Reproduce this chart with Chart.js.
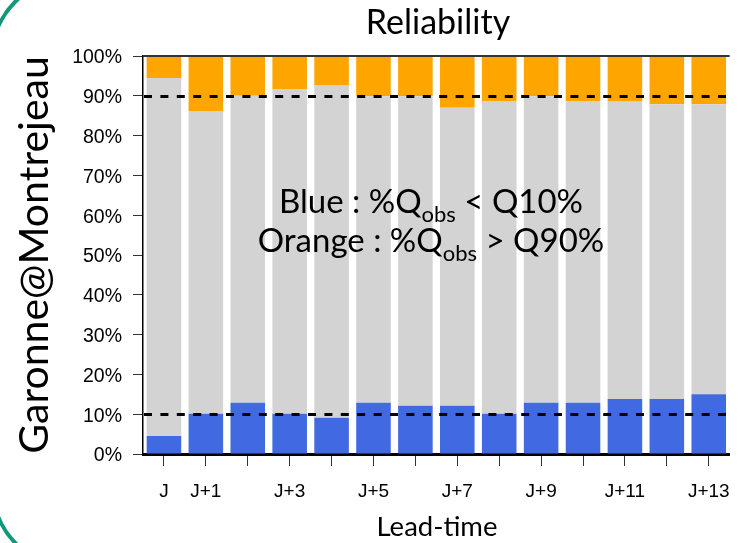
<!DOCTYPE html>
<html>
<head>
<meta charset="utf-8">
<script src="https://cdn.jsdelivr.net/npm/chart.js@4.4.1/dist/chart.umd.min.js"></script>
<style>
  html, body { margin: 0; padding: 0; background: #fff; }
  #wrap { position: relative; width: 744px; height: 543px; }
</style>
</head>
<body>
<div id="wrap"><canvas id="c" width="744" height="543"></canvas></div>
<script>
// Lead times (forecast horizon in days)
const leadTimes = ['J', 'J+1', 'J+2', 'J+3', 'J+4', 'J+5', 'J+6', 'J+7', 'J+8', 'J+9', 'J+10', 'J+11', 'J+12', 'J+13'];
// Only every other label fits under the axis
const axisTickLabels = ['J', 'J+1', '', 'J+3', '', 'J+5', '', 'J+7', '', 'J+9', '', 'J+11', '', 'J+13'];
// % of observed flows below the forecast Q10 (blue) and above the forecast Q90 (orange)
const belowQ10 = [4.5, 10.1, 12.9, 10.1, 9.1, 12.9, 12.1, 12.1, 10.1, 12.9, 12.9, 13.8, 13.8, 15.0];
const aboveQ90 = [5.5, 13.8, 10.0, 8.4, 7.4, 10.1, 10.1, 13.0, 11.3, 10.1, 11.3, 11.3, 12.1, 12.1];
// Remaining share, inside the Q10–Q90 band
const insideBand = belowQ10.map((b, i) => +(100 - b - aboveQ90[i]).toFixed(1));
// Reference levels drawn as dashed lines
const targetLevels = [10, 90];
const yTickValues = [0, 10, 20, 30, 40, 50, 60, 70, 80, 90, 100];

const TEXT_FONT = 'Lato, "Open Sans", sans-serif';
const AXIS_FONT = '"Liberation Sans", Arial, sans-serif';

const decor = {
  id: 'decor',
  afterDatasetsDraw(chart) {
    const { ctx, chartArea: a, scales: { y } } = chart;
    ctx.save();
    // top frame line at 100%
    ctx.strokeStyle = '#333';
    ctx.lineWidth = 2;
    ctx.beginPath();
    ctx.moveTo(a.left, y.getPixelForValue(100));
    ctx.lineTo(a.right, y.getPixelForValue(100));
    ctx.stroke();
    // dashed reference levels
    ctx.strokeStyle = '#000';
    ctx.lineWidth = 3.2;
    ctx.setLineDash([8, 8.4]);
    targetLevels.forEach(v => {
      const py = Math.round(y.getPixelForValue(v)) + 0.5;
      ctx.beginPath();
      ctx.moveTo(a.left + 1, py);
      ctx.lineTo(a.right, py);
      ctx.stroke();
    });
    ctx.restore();
  },
  afterDraw(chart) {
    const { ctx } = chart;
    ctx.save();
    ctx.fillStyle = '#000';
    ctx.textBaseline = 'alphabetic';
    ctx.textAlign = 'center';

    ctx.font = '34px ' + TEXT_FONT;
    ctx.fillText('Reliability', 438, 34);

    ctx.font = '27.5px ' + TEXT_FONT;
    ctx.fillText('Lead-time', 437, 536);

    ctx.save();
    ctx.translate(48, 255);
    ctx.rotate(-Math.PI / 2);
    ctx.font = '41px ' + TEXT_FONT;
    ctx.fillText('Garonne@Montrejeau', 0, 0);
    ctx.restore();

    // legend text with subscripts
    const mainFont = '33px ' + TEXT_FONT;
    const subFont = '22px ' + TEXT_FONT;
    const lines = [
      { y: 213, parts: [['Blue : %Q', 0], ['obs', 1], [' < Q10%', 0]] },
      { y: 252, parts: [['Orange : %Q', 0], ['obs', 1], [' > Q90%', 0]] }
    ];
    ctx.textAlign = 'left';
    lines.forEach(line => {
      let w = 0;
      line.parts.forEach(([t, s]) => { ctx.font = s ? subFont : mainFont; w += ctx.measureText(t).width; });
      let x = 431 - w / 2;
      line.parts.forEach(([t, s]) => {
        ctx.font = s ? subFont : mainFont;
        ctx.fillText(t, x, line.y + (s ? 9 : 0));
        x += ctx.measureText(t).width;
      });
    });

    // rounded slide frame corners
    ctx.strokeStyle = '#12977a';
    ctx.lineWidth = 4;
    ctx.beginPath();
    ctx.arc(70, 57, 77.8, Math.PI, 1.5 * Math.PI);
    ctx.stroke();
    ctx.beginPath();
    ctx.arc(70, 489, 76.8, 0.5 * Math.PI, Math.PI);
    ctx.stroke();
    ctx.restore();
  }
};

new Chart(document.getElementById('c').getContext('2d'), {
  type: 'bar',
  data: {
    labels: leadTimes,
    datasets: [
      { label: '%Qobs < Q10', data: belowQ10, backgroundColor: '#4169E1' },
      { label: 'Q10 – Q90', data: insideBand, backgroundColor: '#D3D3D3' },
      { label: '%Qobs > Q90', data: aboveQ90, backgroundColor: '#FFA500' }
    ]
  },
  options: {
    responsive: false,
    animation: false,
    layout: { padding: { top: 56, right: 11, left: 0, bottom: 0 } },
    datasets: { bar: { barPercentage: 0.825, categoryPercentage: 1, borderWidth: 0 } },
    plugins: { legend: { display: false }, tooltip: { enabled: false }, title: { display: false } },
    scales: {
      x: {
        stacked: true,
        offset: true,
        grid: { display: true, offset: false, drawOnChartArea: false, drawTicks: true, tickLength: 12, color: '#333', lineWidth: 1 },
        border: { display: true, color: '#000', width: 3 },
        ticks: {
          autoSkip: false, maxRotation: 0, minRotation: 0, padding: 14, color: '#000',
          font: { family: AXIS_FONT, size: 19 },
          callback: (v, i) => axisTickLabels[i]
        },
        afterFit: s => { s.height = 89; }
      },
      y: {
        stacked: true,
        min: 0, max: 100,
        afterBuildTicks: s => { s.ticks = yTickValues.map(v => ({ value: v })); },
        grid: { display: true, drawOnChartArea: false, drawTicks: true, tickLength: 10, color: '#333', lineWidth: 1 },
        border: { display: true, color: '#000', width: 1.5 },
        ticks: {
          padding: 11, color: '#000', labelOffset: 2,
          font: { family: AXIS_FONT, size: 19.5 },
          callback: v => v + '%'
        },
        afterFit: s => { s.width = 143; }
      }
    }
  },
  plugins: [decor]
});
</script>
</body>
</html>
